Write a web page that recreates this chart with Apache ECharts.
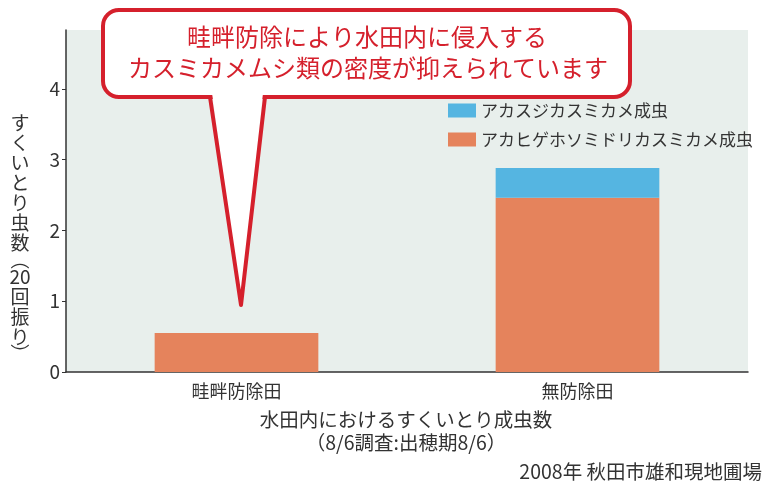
<!DOCTYPE html>
<html><head><meta charset="utf-8">
<script src="https://cdn.jsdelivr.net/npm/echarts@6/dist/echarts.min.js"></script>
<style>html,body{margin:0;padding:0;background:#fff}#c{width:768px;height:483px}</style>
</head><body><div id="c"></div>
<script>
const categories = ['畦畔防除田', '無防除田'];
const akahigeValues = [0.55, 2.46];
const akasujiValues = [null, 0.42];
const seriesNames = ['アカスジカスミカメ成虫', 'アカヒゲホソミドリカスミカメ成虫'];
const yTicks = [0, 1, 2, 3, 4];
const yAxisNameChars = ['す','く','い','と','り','虫','数','︵','20','回','振','り','︶'];
const calloutLines = ['畦畔防除により水田内に侵入する', 'カスミカメムシ類の密度が抑えられています'];
const xNameLines = ['水田内におけるすくいとり成虫数', '（8/6調査:出穂期8/6）'];
const sourceNote = '2008年 秋田市雄和現地圃場';

const FONT = '"Noto Sans CJK JP", "Noto Sans", sans-serif';
const RED = '#d5202c';
const chart = echarts.init(document.getElementById('c'), null, {renderer: 'canvas'});

// vertical axis name: one text element per cell
const yNameGraphics = [];
let cy = 123;
yAxisNameChars.forEach((ch, i) => {
  const isParen = (ch === '︵' || ch === '︶');
  const h = isParen ? 14 : 20;
  if (i > 0) {
    const prevParen = (yAxisNameChars[i-1] === '︵' || yAxisNameChars[i-1] === '︶');
    cy += ((prevParen ? 14 : 20) + h) / 2;
  }
  yNameGraphics.push({type: 'text', x: 20, y: cy,
    style: {text: ch, font: '19px ' + FONT, fill: '#333', align: 'center', verticalAlign: 'middle'}});
});

chart.setOption({
  animation: false,
  textStyle: {fontFamily: FONT},
  grid: {left: 66, right: 20, top: 30, bottom: 111, show: true, backgroundColor: '#e8efec', borderWidth: 0},
  legend: {
    left: 443, top: 97, orient: 'vertical', itemWidth: 28, itemHeight: 14, itemGap: 12,
    icon: 'rect',
    textStyle: {fontSize: 17, color: '#333', fontFamily: FONT},
    data: [seriesNames[0], seriesNames[1]]
  },
  xAxis: {
    type: 'category', data: categories,
    axisLine: {lineStyle: {color: '#333', width: 1.5}},
    axisTick: {show: false},
    axisLabel: {fontSize: 18, color: '#333', margin: 10, fontFamily: FONT}
  },
  yAxis: {
    type: 'value', min: 0, max: 4.83, interval: 1,
    splitLine: {show: false},
    axisLine: {show: true, lineStyle: {color: '#333', width: 1.5}},
    axisTick: {show: true, length: 4, customValues: yTicks, lineStyle: {color: '#333'}},
    axisLabel: {fontSize: 19, color: '#333', margin: 6, customValues: yTicks, fontFamily: FONT}
  },
  series: [
    {name: seriesNames[1], type: 'bar', stack: 's', data: akahigeValues, barWidth: '48%',
     itemStyle: {color: '#e5835c'}},
    {name: seriesNames[0], type: 'bar', stack: 's', data: akasujiValues, barWidth: '48%',
     itemStyle: {color: '#55b5e1'}}
  ],
  graphic: [
    {type: 'rect', z: 100, shape: {x: 103, y: 10, width: 527, height: 87, r: 16},
     style: {fill: '#fff', stroke: RED, lineWidth: 4}},
    {type: 'polygon', z: 101, shape: {points: [[212, 93], [241, 302], [263, 93]]},
     style: {fill: '#fff'}},
    {type: 'polyline', z: 102, shape: {points: [[210, 97], [241, 305], [265, 97]]},
     style: {fill: null, stroke: RED, lineWidth: 4, lineJoin: 'round'}},
    {type: 'text', z: 103, x: 367, y: 37,
     style: {text: calloutLines[0], font: '24px ' + FONT, fill: RED, align: 'center', verticalAlign: 'middle'}},
    {type: 'text', z: 103, x: 368, y: 68,
     style: {text: calloutLines[1], font: '24px ' + FONT, fill: RED, align: 'center', verticalAlign: 'middle'}},
    ...yNameGraphics,
    {type: 'text', x: 406, y: 420,
     style: {text: xNameLines[0], font: '19.5px ' + FONT, fill: '#333', align: 'center', verticalAlign: 'middle'}},
    {type: 'text', x: 406, y: 443,
     style: {text: xNameLines[1], font: '19.5px ' + FONT, fill: '#333', align: 'center', verticalAlign: 'middle'}},
    {type: 'text', x: 762, y: 472,
     style: {text: sourceNote, font: '19.5px ' + FONT, fill: '#333', align: 'right', verticalAlign: 'middle'}}
  ]
});
</script>
</body></html>
